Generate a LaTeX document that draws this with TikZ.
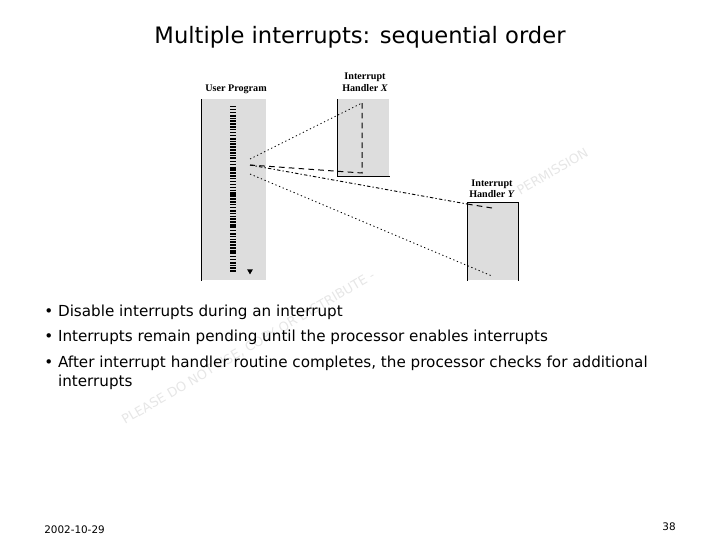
\documentclass[tikz,border=0pt]{standalone}
\usepackage{fontspec}
\setmainfont{DejaVu Sans}
\newfontfamily\figfont{Liberation Serif}
\usetikzlibrary{shapes.geometric}
\definecolor{panelgray}{HTML}{DDDDDD}
\definecolor{markgray}{HTML}{E6E6E6}
\tikzset{
  panel/.style={fill=panelgray,draw=none,anchor=north west,inner sep=0pt,minimum width=#1},
  figlabel/.style={font=\figfont\fontsize{7.2}{8.2}\selectfont\bfseries,align=center,inner sep=0pt},
  bodyline/.style={font=\fontsize{10.8}{13.5}\selectfont,anchor=west,align=left,inner sep=0pt},
  stamp/.style={font=\fontsize{9.2}{12}\selectfont,text=markgray,rotate=30.4,anchor=base west,inner sep=0pt},
  solidedge/.style={line width=0.7pt},
  codeline/.style={line width=4.3pt},
  dotline/.style={line width=0.6pt,dash pattern=on 0.9pt off 1.9pt},
  dashline/.style={line width=0.7pt,dash pattern=on 4pt off 3pt},
  mixline/.style={line width=0.65pt,dash pattern=on 2.4pt off 1.6pt on 0.9pt off 1.6pt}
}
\begin{document}
\begin{tikzpicture}[x=0.025cm,y=-0.025cm]
\useasboundingbox (0,0) rectangle (720,540);
\node[font=\fontsize{16.1}{18}\selectfont,inner sep=0pt] (title) at (360,37) {Multiple interrupts: sequential order};
% watermark
\node[stamp] (stampleft) at (125,425) {PLEASE DO NOT USE, COPY OR DISTRIBUTE -};
\node[stamp] (stampright) at (520,196) {PERMISSION};
% panels
\node[panel=65*0.7113pt,minimum height=181*0.7113pt] (userbox) at (201,99) {};
\node[panel=52*0.7113pt,minimum height=77*0.7113pt] (xbox) at (337,99) {};
\node[panel=51*0.7113pt,minimum height=78*0.7113pt] (ybox) at (467,202) {};
\draw[solidedge] (userbox.north west) -- (userbox.south west);
\draw[solidedge] (xbox.north west) -- (xbox.south west) -- (xbox.south east);
\draw[solidedge] (ybox.south west) -- (ybox.north west) -- (ybox.north east) -- (ybox.south east);
\node[figlabel] (userlabel) at (236,89) {User Program};
\node[figlabel] (xlabel) at (365,82) {Interrupt\\Handler \textit{X}};
\node[figlabel] (ylabel) at (492,188.5) {Interrupt\\Handler \textit{Y}};
% program code
\coordinate (codetop) at (233,106);
\coordinate (codebot) at (233,273);
\draw[codeline,dash pattern=on 1pt off 1.05pt] (codetop) -- (codebot);
\foreach \bandy in {115,138,157,168,193,210,225,233,252,262}
  \draw[codeline] (233,\bandy) -- (233,\bandy+2);
\node[isosceles triangle,isosceles triangle apex angle=60,shape border rotate=-90,fill=black,inner sep=0pt,minimum size=3.6pt] (endmark) at (250,271) {};
% jumps
\coordinate (jumpx) at (250,159);
\coordinate (backx) at (250,165);
\coordinate (jumpy) at (250,174);
\coordinate (xtop) at (362,103);
\coordinate (xbot) at (362,173);
\coordinate (yin) at (467,204);
\coordinate (ytop) at (492,208);
\coordinate (ybot) at (492,276);
\draw[dotline] (jumpx) -- (xtop);
\draw[dashline] (xtop) -- (xbot) -- (backx);
\draw[mixline] (backx) -- (yin);
\draw[dashline] (yin) -- (ytop);
\draw[dotline] (jumpy) -- (ybot);
% bullets
\node[bodyline] (itemone) at (44,312) {\textbullet\ Disable interrupts during an interrupt};
\node[bodyline] (itemtwo) at (44,337) {\textbullet\ Interrupts remain pending until the processor enables interrupts};
\node[bodyline,anchor=north west] (itemthree) at (44,356) {\textbullet\ After interrupt handler routine completes, the processor checks for additional\\\phantom{\textbullet\ }interrupts};
% footer
\node[font=\fontsize{7.4}{10}\selectfont,anchor=west,inner sep=0pt] (datefoot) at (44,530) {2002-10-29};
\node[font=\fontsize{7.4}{10}\selectfont,anchor=east,inner sep=0pt] (pagefoot) at (676,527) {38};
\end{tikzpicture}
\end{document}
